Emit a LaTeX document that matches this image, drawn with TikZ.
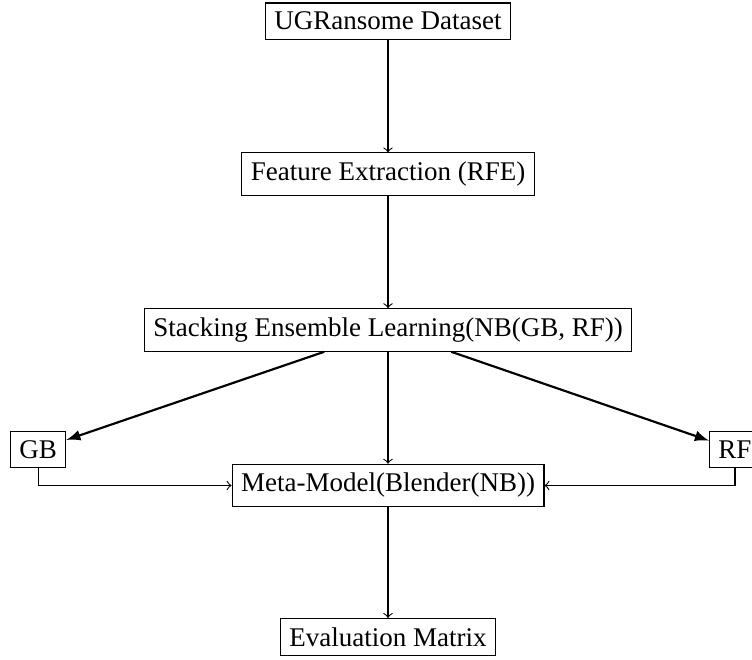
\documentclass[tikz,border=0pt]{standalone}
\usepackage{fontspec}
\setmainfont{Liberation Serif}
\begin{document}
\begin{tikzpicture}[x=1pt,y=1pt,
  box/.style={draw, rectangle, font=\fontsize{10}{12}\selectfont},
  thin arrow/.style={->},
  bold arrow/.style={-latex, thick}]
\useasboundingbox (0,0) rectangle (278.5,-244.1);
\node[box] (ug) at (143.7,-7.8) {UGRansome Dataset};
\node[box] (fe) at (143.7,-64.5) {Feature Extraction (RFE)};
\node[box] (st) at (143.7,-122.2) {Stacking Ensemble Learning(NB(GB, RF))};
\node[box] (gb) at (14.1,-166.5) {GB};
\node[box] (meta) at (143.7,-179.8) {Meta-Model(Blender(NB))};
\node[box] (rf) at (272.2,-166.5) {RF};
\node[box] (ev) at (143.7,-235.9) {Evaluation Matrix};
\draw[thin arrow] (ug) -- (fe);
\draw[thin arrow] (fe) -- (st);
\draw[bold arrow] (st) -- (gb);
\draw[bold arrow] (st) -- (rf);
\draw[thin arrow] (st) -- (meta);
\draw[thin arrow] (gb.south) |- (meta.west);
\draw[thin arrow] (rf.south) |- (meta.east);
\draw[thin arrow] (meta) -- (ev);
\end{tikzpicture}
\end{document}
